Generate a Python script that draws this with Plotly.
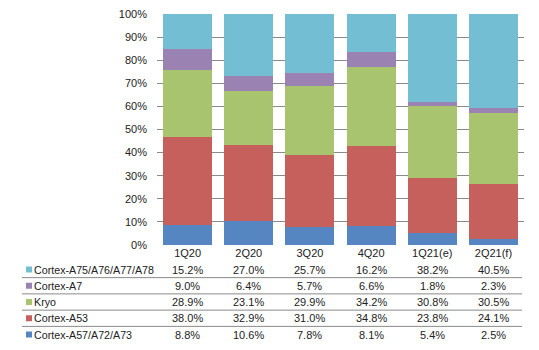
import plotly.graph_objects as go

categories = ["1Q20", "2Q20", "3Q20", "4Q20", "1Q21(e)", "2Q21(f)"]

# series listed bottom-of-stack first
series_names = ["Cortex-A57/A72/A73", "Cortex-A53", "Kryo", "Cortex-A7", "Cortex-A75/A76/A77/A78"]
a57_a72_a73 = [8.8, 10.6, 7.8, 8.1, 5.4, 2.5]
a53 = [38.0, 32.9, 31.0, 34.8, 23.8, 24.1]
kryo = [28.9, 23.1, 29.9, 34.2, 30.8, 30.5]
a7 = [9.0, 6.4, 5.7, 6.6, 1.8, 2.3]
a75_a78 = [15.2, 27.0, 25.7, 16.2, 38.2, 40.5]
series_values = [a57_a72_a73, a53, kryo, a7, a75_a78]
colors = ["#5586C1", "#C6605D", "#A9C46F", "#9A83B3", "#73BED2"]

W, H = 539, 350
L, R, T, B = 157, 15, 14, 105
PW = W - L - R
PH = H - T - B

def px_to_paper_x(px):
    return (px - L) / PW

def px_to_paper_y(py):
    return (H - B - py) / PH

fig = go.Figure()
for name, vals, col in zip(series_names, series_values, colors):
    fig.add_trace(go.Bar(
        x=categories, y=[v / 100 for v in vals], name=name,
        marker=dict(color=col, line=dict(width=0)),
        hoverinfo="skip",
    ))

font = dict(family="Liberation Sans, Arial, sans-serif", size=11, color="#222222")

annotations = []
shapes = []
# table rows: top row = top of stack
table_order = list(range(len(series_names)))[::-1]
row0 = 269.5
row_h = 16.25
for r, si in enumerate(table_order):
    cy = row0 + r * row_h
    yp = px_to_paper_y(cy)
    annotations.append(dict(
        xref="paper", yref="paper", x=px_to_paper_x(32), y=yp,
        text=series_names[si], showarrow=False, xanchor="left", yanchor="middle",
        font=dict(family=font["family"], size=10.7, color=font["color"]),
    ))
    shapes.append(dict(
        type="rect", xref="paper", yref="paper",
        x0=px_to_paper_x(26), x1=px_to_paper_x(32),
        y0=px_to_paper_y(cy + 3), y1=px_to_paper_y(cy - 3),
        fillcolor=colors[si], line=dict(width=0),
    ))
    for c, v in zip(categories, series_values[si]):
        annotations.append(dict(
            xref="x", yref="paper", x=c, y=yp,
            text=f"{v:.1f}%", showarrow=False, xanchor="center", yanchor="middle",
            font=font,
        ))
    if r < len(table_order) - 1:
        ly = px_to_paper_y(cy + row_h / 2)
        shapes.append(dict(
            type="line", xref="paper", yref="paper",
            x0=px_to_paper_x(22), x1=px_to_paper_x(522), y0=ly, y1=ly,
            line=dict(color="#8A8A8A", width=1),
        ))

fig.update_layout(
    width=W, height=H,
    margin=dict(l=L, r=R, t=T, b=B, autoexpand=False),
    barmode="stack", bargap=0.2,
    showlegend=False,
    paper_bgcolor="white", plot_bgcolor="white",
    font=font,
    annotations=annotations,
    shapes=shapes,
    hovermode=False,
)
fig.update_xaxes(
    type="category", showgrid=False, showline=False, ticks="", zeroline=False,
    tickfont=font, automargin=False,
)
fig.update_yaxes(
    range=[0, 1], dtick=0.1, tickformat=".0%", showgrid=True,
    gridcolor="#8A8A8A", gridwidth=1, zeroline=False, showline=False,
    ticks="", ticklabelstandoff=9, tickfont=font, automargin=False,
)

fig.write_html("out.html", config={"displayModeBar": False})
